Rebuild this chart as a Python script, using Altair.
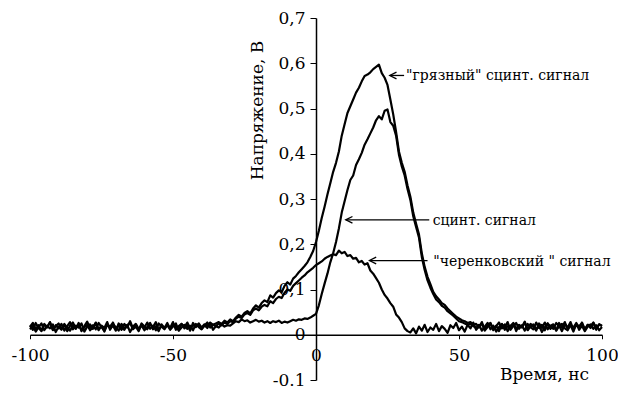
import altair as alt
import pandas as pd

# time grid, ns
time_ns = list(range(-100, 101))

# "dirty" scintillation signal
dirty_base_left = [  # -100 .. -36
    0.018, 0.026, 0.012, 0.021, 0.009, 0.024, 0.016, 0.028, 0.011, 0.019,
    0.025, 0.013, 0.022, 0.008, 0.020, 0.027, 0.014, 0.023, 0.010, 0.019,
    0.029, 0.015, 0.021, 0.012, 0.026, 0.017, 0.009, 0.022, 0.018, 0.027,
    0.013, 0.020, 0.011, 0.024, 0.016, 0.030, 0.014, 0.021, 0.010, 0.025,
    0.018, 0.012, 0.023, 0.017, 0.028, 0.011, 0.020, 0.015, 0.026, 0.013,
    0.022, 0.019, 0.010, 0.024, 0.017, 0.027, 0.014, 0.021, 0.018, 0.025,
    0.016, 0.023, 0.020, 0.027, 0.022]
dirty_pulse = [  # -35 .. 55
    0.025, 0.028, 0.024, 0.031, 0.027, 0.034, 0.030, 0.038, 0.044, 0.040,
    0.048, 0.052, 0.047, 0.058, 0.065, 0.060, 0.070, 0.076, 0.072, 0.087,
    0.082, 0.092, 0.098, 0.094, 0.108, 0.116, 0.111, 0.124, 0.130, 0.138,
    0.145, 0.152, 0.160, 0.172, 0.185, 0.205,
    0.230, 0.258, 0.283, 0.310, 0.335, 0.360, 0.380, 0.405, 0.440, 0.465,
    0.490, 0.505, 0.520, 0.535, 0.546, 0.560, 0.572, 0.575, 0.580, 0.587,
    0.592, 0.597, 0.578, 0.568, 0.552, 0.520, 0.487, 0.448, 0.405, 0.380,
    0.360, 0.330, 0.305, 0.270, 0.245, 0.222, 0.180, 0.150, 0.128, 0.112,
    0.095, 0.085, 0.078, 0.070, 0.066, 0.058, 0.052, 0.046, 0.040, 0.036,
    0.032, 0.030, 0.026, 0.028, 0.022]
dirty_base_right = [  # 56 .. 100
    0.024, 0.016, 0.028, 0.012, 0.021, 0.026, 0.010, 0.019, 0.027, 0.014,
    0.023, 0.008, 0.020, 0.026, 0.013, 0.022, 0.017, 0.029, 0.011, 0.024,
    0.018, 0.009, 0.025, 0.015, 0.027, 0.012, 0.020, 0.023, 0.010, 0.026,
    0.016, 0.028, 0.013, 0.021, 0.007, 0.024, 0.018, 0.027, 0.012, 0.022,
    0.015, 0.026, 0.011, 0.023, 0.019]

# scintillation signal
scint_base_left = [  # -100 .. -31
    0.012, 0.020, 0.007, 0.017, 0.025, 0.010, 0.019, 0.014, 0.023, 0.006,
    0.018, 0.011, 0.024, 0.015, 0.009, 0.021, 0.013, 0.026, 0.008, 0.017,
    0.022, 0.010, 0.016, 0.027, 0.012, 0.019, 0.007, 0.023, 0.014, 0.020,
    0.009, 0.025, 0.016, 0.011, 0.022, 0.006, 0.018, 0.024, 0.013, 0.020,
    0.010, 0.017, 0.026, 0.012, 0.019, 0.008, 0.023, 0.015, 0.021, 0.011,
    0.018, 0.025, 0.009, 0.016, 0.022, 0.013, 0.020, 0.010, 0.024, 0.017,
    0.012, 0.021, 0.015, 0.026, 0.011, 0.019, 0.016, 0.023, 0.018, 0.021]
scint_pulse = [  # -30 .. 55
    0.020, 0.025, 0.030, 0.028, 0.034, 0.030, 0.032, 0.027, 0.030, 0.033,
    0.029, 0.031, 0.027, 0.030, 0.026, 0.030, 0.028, 0.031, 0.026, 0.029,
    0.027, 0.030, 0.033, 0.031, 0.034, 0.033, 0.036, 0.035, 0.038, 0.042,
    0.046,
    0.065, 0.090, 0.113, 0.135, 0.160, 0.180, 0.205, 0.235, 0.270, 0.295,
    0.320, 0.342, 0.352, 0.375, 0.388, 0.402, 0.420, 0.432, 0.445, 0.458,
    0.474, 0.483, 0.476, 0.495, 0.498, 0.470, 0.462, 0.440, 0.398, 0.372,
    0.352, 0.322, 0.298, 0.262, 0.238, 0.215, 0.172, 0.143, 0.120, 0.104,
    0.090, 0.078, 0.072, 0.064, 0.060, 0.052, 0.047, 0.042, 0.036, 0.030,
    0.028, 0.025, 0.022, 0.024, 0.019]
scint_base_right = [  # 56 .. 100
    0.015, 0.022, 0.009, 0.018, 0.026, 0.012, 0.020, 0.007, 0.017, 0.024,
    0.011, 0.019, 0.014, 0.025, 0.008, 0.021, 0.016, 0.027, 0.010, 0.018,
    0.023, 0.012, 0.020, 0.006, 0.017, 0.025, 0.013, 0.021, 0.009, 0.019,
    0.024, 0.014, 0.010, 0.022, 0.016, 0.026, 0.011, 0.020, 0.008, 0.018,
    0.023, 0.013, 0.021, 0.010, 0.017]

# "Cherenkov" signal
cher_base_left = [  # -100 .. -31
    0.020, 0.011, 0.026, 0.015, 0.008, 0.022, 0.018, 0.027, 0.010, 0.021,
    0.014, 0.024, 0.009, 0.019, 0.028, 0.012, 0.020, 0.016, 0.025, 0.007,
    0.018, 0.023, 0.013, 0.026, 0.010, 0.020, 0.015, 0.028, 0.011, 0.022,
    0.017, 0.009, 0.024, 0.014, 0.021, 0.026, 0.012, 0.018, 0.008, 0.023,
    0.016, 0.027, 0.013, 0.020, 0.010, 0.025, 0.018, 0.012, 0.022, 0.015,
    0.028, 0.011, 0.019, 0.024, 0.014, 0.021, 0.009, 0.026, 0.017, 0.023,
    0.013, 0.020, 0.027, 0.016, 0.022, 0.019, 0.025, 0.021, 0.027, 0.024]
cher_pulse = [  # -30 .. 32
    0.030, 0.028, 0.036, 0.040, 0.037, 0.045, 0.048, 0.044, 0.054, 0.058,
    0.054, 0.062, 0.066, 0.063, 0.074, 0.070, 0.079, 0.084, 0.081, 0.093,
    0.100, 0.097, 0.108, 0.114, 0.120, 0.126, 0.131, 0.138, 0.143, 0.148,
    0.154, 0.158, 0.162, 0.168, 0.172, 0.175, 0.178, 0.176, 0.186, 0.180,
    0.183, 0.174, 0.176, 0.168, 0.170, 0.160, 0.163, 0.155, 0.158, 0.142,
    0.135, 0.125, 0.115, 0.100, 0.088, 0.080, 0.070, 0.062, 0.045, 0.038,
    0.028, 0.014, 0.008]
cher_base_right = [  # 33 .. 100
    0.005, 0.014, 0.003, 0.018, 0.009, 0.022, 0.006, 0.016, 0.011, 0.024,
    0.008, 0.019, 0.013, 0.004, 0.021, 0.015, 0.026, 0.010, 0.018, 0.007,
    0.022, 0.014, 0.027, 0.011, 0.019, 0.024, 0.009, 0.017, 0.025, 0.012,
    0.020, 0.008, 0.023, 0.016, 0.028, 0.011, 0.019, 0.026, 0.013, 0.021,
    0.009, 0.024, 0.017, 0.012, 0.027, 0.015, 0.022, 0.010, 0.025, 0.018,
    0.013, 0.026, 0.020, 0.008, 0.023, 0.016, 0.028, 0.012, 0.021, 0.017,
    0.025, 0.011, 0.022, 0.019, 0.027, 0.014, 0.023, 0.020]

dirty = dirty_base_left + dirty_pulse + dirty_base_right
scint = scint_base_left + scint_pulse + scint_base_right
cher = cher_base_left + cher_pulse + cher_base_right

series_names = ["dirty", "scint", "cher"]

# annotations
label_text = ['"грязный" сцинт. сигнал', 'сцинт. сигнал', '"черенковский " сигнал']
label_x = [31.5, 40.8, 41.0]
label_y = [0.573, 0.254, 0.164]
arrow_tip_x = [25.8, 10.4, 18.7]
arrow_tail_x = [30.8, 39.6, 39.0]
arrow_y = [0.573, 0.254, 0.164]

x_ticks = [-100, -50, 0, 50, 100]
y_ticks = [-0.1, 0, 0.1, 0.2, 0.3, 0.4, 0.5, 0.6, 0.7]

rows = []
for name, vals in zip(series_names, [dirty, scint, cher]):
    for t, v in zip(time_ns, vals):
        rows.append({"t": t, "v": v, "s": name})
df = pd.DataFrame(rows)

arrows_df = pd.DataFrame({"t": arrow_tip_x, "t2": arrow_tail_x, "v": arrow_y})
labels_df = pd.DataFrame({"t": label_x, "v": label_y, "label": label_text})

FONT = "DejaVu Serif"
W, H = 572, 362

xs = alt.Scale(domain=[-100, 100], nice=False, zero=False)
ys = alt.Scale(domain=[-0.1, 0.7], nice=False, zero=False)

x_axis = alt.Axis(
    title="Время, нс", values=x_ticks, offset=-H * 0.1 / 0.8, grid=False,
    domainColor="black", domainWidth=1.5, tickColor="black", tickSize=4,
    labelFont=FONT, labelFontSize=17, labelColor="black", labelPadding=9,
    labelFlush=False, labelOverlap=False, labelExpr="'' + datum.value",
    titleFont=FONT, titleFontSize=17, titleFontWeight="normal", titleColor="black",
    titleX=514, titleY=45, titleAlign="center", titleBaseline="alphabetic",
)
y_axis = alt.Axis(
    title="Напряжение, В", values=y_ticks, offset=-W / 2, grid=False,
    domainColor="black", domainWidth=1.5, tickColor="black", tickSize=6,
    labelFont=FONT, labelFontSize=17, labelColor="black", labelPadding=5,
    labelFlush=False, labelOverlap=False,
    labelExpr="datum.value == 0 ? '0' : (datum.value < 0 ? '-0.1' : replace(format(datum.value, '.1f'), '.', ','))",
    titleFont=FONT, titleFontSize=17, titleFontWeight="normal", titleColor="black",
    titleX=-54, titleY=92, titleAngle=270, titleAlign="center", titleBaseline="alphabetic",
)

lines = alt.Chart(df).mark_line(color="black", strokeWidth=2.2, strokeJoin="round").encode(
    x=alt.X("t:Q", scale=xs, axis=x_axis),
    y=alt.Y("v:Q", scale=ys, axis=y_axis),
    detail="s:N",
    order="t:Q",
)

rules = alt.Chart(arrows_df).mark_rule(color="black", strokeWidth=1.3).encode(
    x=alt.X("t:Q", scale=xs), x2="t2:Q", y=alt.Y("v:Q", scale=ys)
)
heads = alt.Chart(arrows_df).mark_point(
    shape="M2,-1L0,0L2,1", filled=False, color="black", size=45, strokeWidth=1.3, opacity=1
).encode(x=alt.X("t:Q", scale=xs), y=alt.Y("v:Q", scale=ys))

texts = alt.Chart(labels_df).mark_text(
    align="left", baseline="middle", font=FONT, fontSize=14, color="black", dy=1
).encode(x=alt.X("t:Q", scale=xs), y=alt.Y("v:Q", scale=ys), text="label:N")

chart = alt.layer(lines, rules, heads, texts).properties(
    width=W, height=H,
    padding={"left": 22, "top": 10, "right": 16, "bottom": 9},
    autosize=alt.AutoSizeParams(type="none"),
).configure_view(stroke=None)

chart.save("out.html", embed_options={"renderer": "svg", "actions": False})
